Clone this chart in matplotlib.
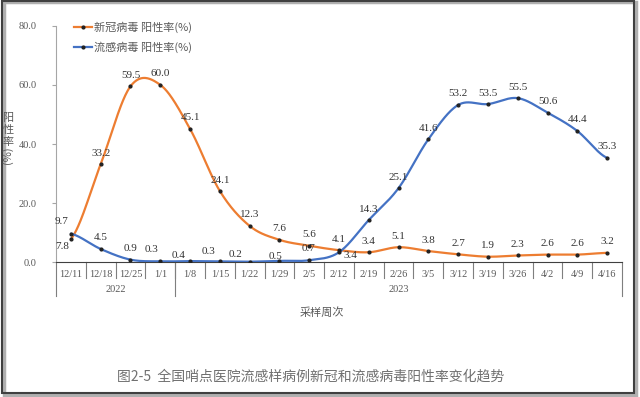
import numpy as np
import matplotlib.pyplot as plt
from matplotlib.patches import Rectangle

# data
weeks = ['12/11', '12/18', '12/25', '1/1', '1/8', '1/15', '1/22', '1/29', '2/5', '2/12',
         '2/19', '2/26', '3/5', '3/12', '3/19', '3/26', '4/2', '4/9', '4/16']
years = ['2022', '2023']
year_weeks = [4, 15]
covid = [7.8, 33.2, 59.5, 60.0, 45.1, 24.1, 12.3, 7.6, 5.6, 4.1,
         3.4, 5.1, 3.8, 2.7, 1.9, 2.3, 2.6, 2.6, 3.2]
flu = [9.7, 4.5, 0.9, 0.3, 0.4, 0.3, 0.2, 0.5, 0.7, 3.4,
       14.3, 25.1, 41.6, 53.2, 53.5, 55.5, 50.6, 44.4, 35.3]

ORANGE = '#ED7D31'
BLUE = '#4472C4'
GREY = '#595959'
SERIF = ['Liberation Serif', 'Noto Sans CJK SC']
CJK = ['Noto Sans CJK SC', 'DejaVu Sans']

# label nudges in pixels (default is straight above the point)
covid_off = {0: (-9, -7)}
flu_off = {0: (-9, 12), 3: (-9, 12), 4: (-11, 6), 5: (-11, 10), 6: (-14, 7),
           7: (-4, 4), 8: (-1, 12), 9: (11, -3)}


def smooth(vals, n=40):
    # Catmull-Rom curve through the points, like a spreadsheet "smoothed line"
    y = np.asarray(vals, float)
    p = np.concatenate([[y[0]], y, [y[-1]]])
    xs, ys = [], []
    for i in range(len(y) - 1):
        t = np.linspace(0, 1, n, endpoint=(i == len(y) - 2))
        p0, p1, p2, p3 = p[i], p[i + 1], p[i + 2], p[i + 3]
        seg = 0.5 * (2 * p1 + (-p0 + p2) * t + (2 * p0 - 5 * p1 + 4 * p2 - p3) * t ** 2
                     + (-p0 + 3 * p1 - 3 * p2 + p3) * t ** 3)
        xs.append(i + t)
        ys.append(seg)
    return np.concatenate(xs), np.concatenate(ys)


fig = plt.figure(figsize=(6.4, 3.97), dpi=100)
ax = fig.add_axes([56 / 640, 1 - 262.3 / 397, 566 / 640, 236.6 / 397])

x = np.arange(len(weeks))
for vals, color, name, offs in [(covid, ORANGE, '新冠病毒 阳性率(%)', covid_off),
                                (flu, BLUE, '流感病毒 阳性率(%)', flu_off)]:
    sx, sy = smooth(vals)
    ax.plot(sx, sy, color=color, lw=1.6, solid_capstyle='round', zorder=3)
    ax.plot(x, vals, ls='none', marker='o', ms=2, color='#222222', zorder=4)
    ax.plot([], [], color=color, lw=1.6, marker='o', ms=2, mfc='#222222',
            mec='#222222', label=name)
    for i, v in enumerate(vals):
        dx, dy = offs.get(i, (0, 11))
        ax.annotate(f'{v:.1f}', (i, v), xytext=(dx, dy), textcoords='offset pixels',
                    ha='center', va='center', fontsize=8, color='#333333',
                    family=SERIF, zorder=5)

ax.set_xlim(-0.5, len(weeks) - 0.5)
ax.set_ylim(0, 80)
ax.set_yticks([0, 20, 40, 60, 80])
ax.set_yticklabels([f'{v:.1f}' for v in [0, 20, 40, 60, 80]], family=SERIF,
                   fontsize=7.5, color=GREY)
ax.tick_params(axis='y', length=3, pad=11, color='#a6a6a6')
ax.set_xticks([])
for s in ['top', 'right']:
    ax.spines[s].set_visible(False)
ax.spines['left'].set_color('#a6a6a6')
ax.spines['bottom'].set_color('#404040')

# category table under the axis
tr = ax.get_xaxis_transform()
h = 236.6
for i, w in enumerate(weeks):
    ax.text(i, -11.7 / h, w, transform=tr, ha='center', va='center', fontsize=7.5,
            color=GREY, family=SERIF)
for b in range(1, len(weeks)):
    ax.plot([b - 0.5, b - 0.5], [0, -16 / h], transform=tr, color='#7f7f7f',
            lw=0.8, clip_on=False)
start = 0
bounds = [-0.5]
for yr, n in zip(years, year_weeks):
    ax.text(start + n / 2 - 0.5, -26.7 / h, yr, transform=tr, ha='center', va='center',
            fontsize=7.5, color=GREY, family=SERIF)
    start += n
    bounds.append(start - 0.5)
for b in bounds:
    ax.plot([b, b], [0, -34 / h], transform=tr, color='#7f7f7f', lw=0.8, clip_on=False)

# axis titles
for ch, yy in zip('阳性率', [118, 130, 142]):
    fig.text(8 / 640, 1 - yy / 397, ch, ha='center', va='center', fontsize=8,
             color=GREY, family=CJK)
fig.text(8 / 640, 1 - 155 / 397, '(%)', ha='center', va='center', fontsize=8,
         color=GREY, family=CJK, rotation=90)
fig.text(322 / 640, 1 - 313 / 397, '采样周次', ha='center', va='center', fontsize=8,
         color=GREY, family=CJK)
fig.text(311 / 640, 1 - 377 / 397, '图2-5  全国哨点医院流感样病例新冠和流感病毒阳性率变化趋势',
         ha='center', va='center', fontsize=10, color='#707070', family=CJK)

leg = ax.legend(loc='upper left', bbox_to_anchor=(64 / 640, 1 - 12 / 397),
                bbox_transform=fig.transFigure, frameon=False,
                handlelength=1.6, handletextpad=0.2, labelspacing=0.75,
                prop={'family': CJK, 'size': 8})
for t in leg.get_texts():
    t.set_color(GREY)

# outer frame
fig.patches.append(Rectangle((4 / 640, 2 / 397), 632 / 640, 393 / 397,
                             transform=fig.transFigure, fill=False,
                             ec='#b0b0b0', lw=2.5))
fig.patches.append(Rectangle((2 / 640, 4 / 397), 632 / 640, 392 / 397,
                             transform=fig.transFigure, fill=False,
                             ec='#404040', lw=1.5))

fig.savefig('out.png', dpi=100)
